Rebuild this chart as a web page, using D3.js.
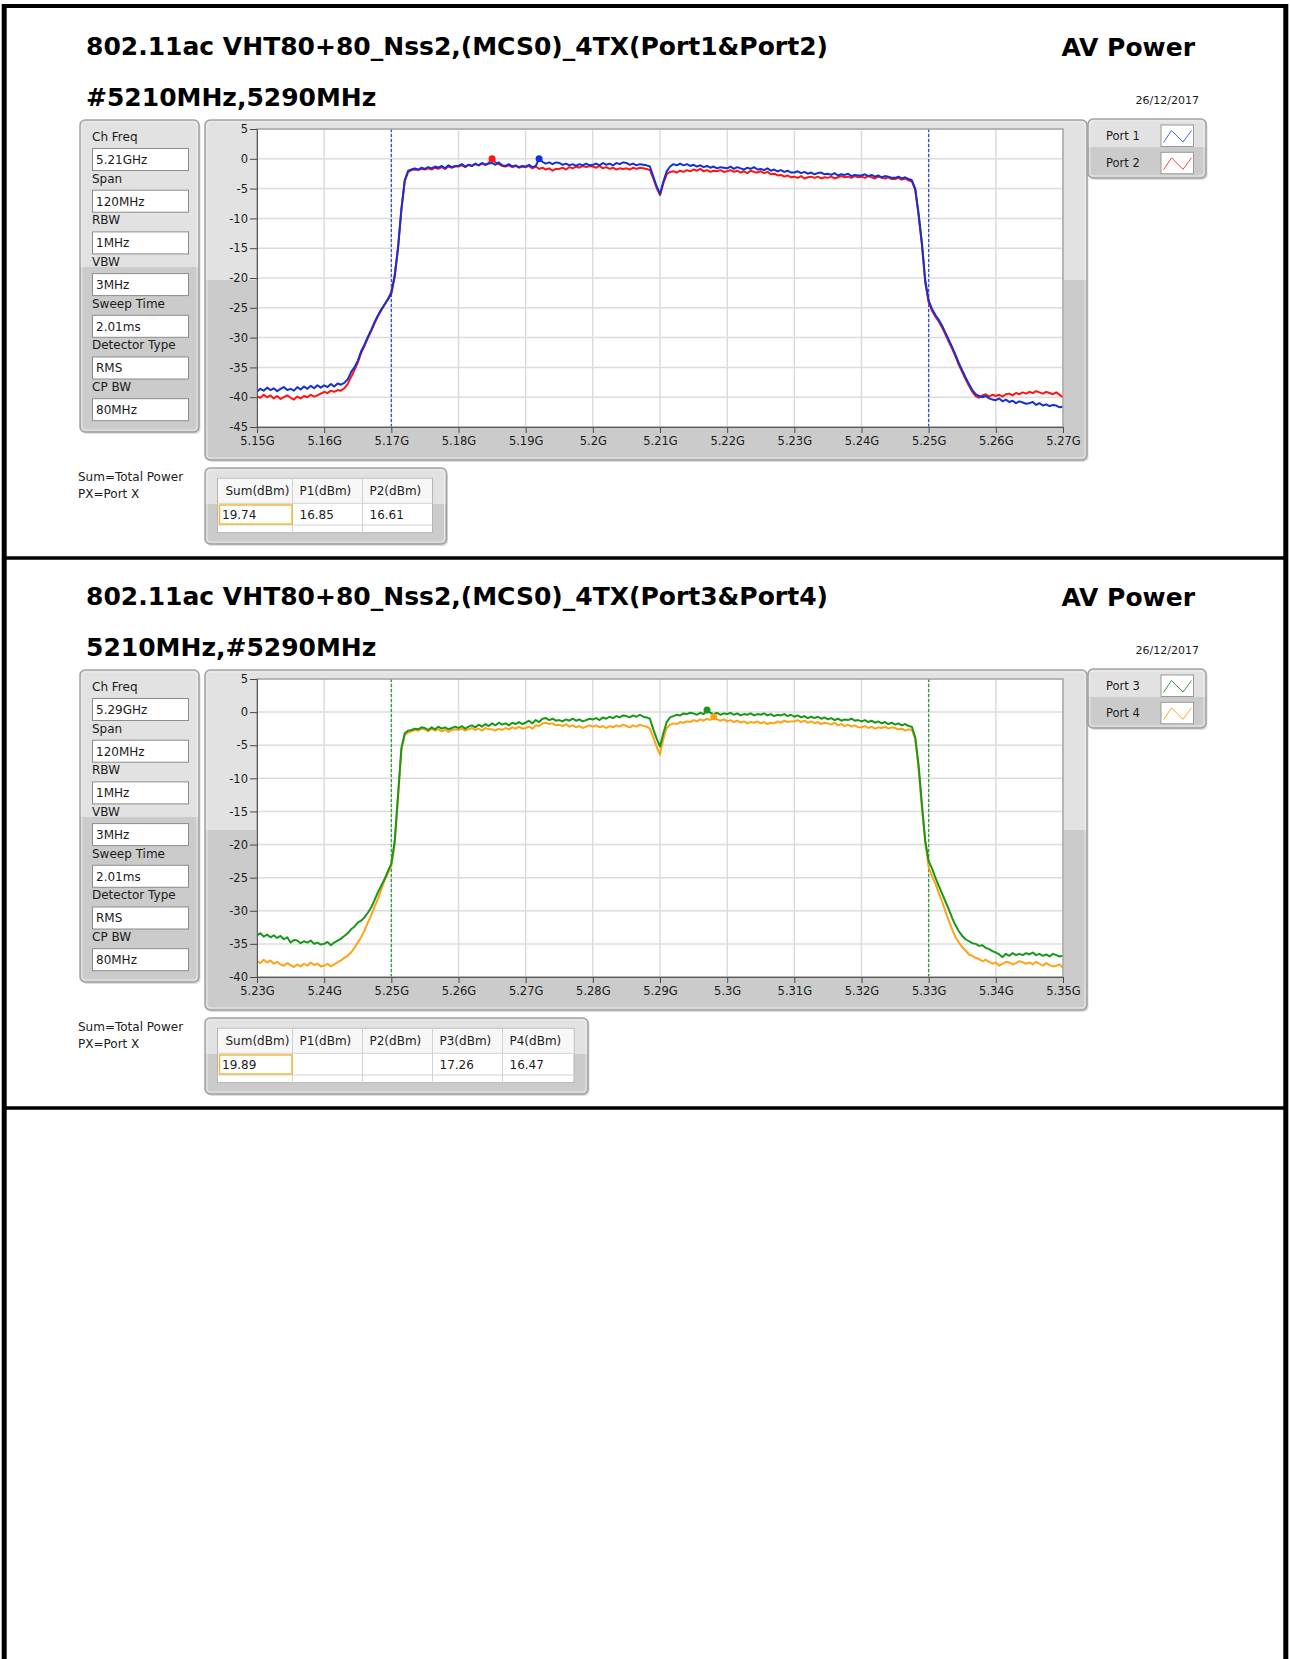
<!DOCTYPE html>
<html>
<head>
<meta charset="utf-8">
<style>
  body { margin: 0; background: #fff; }
  svg { display: block; }
  text { font-family: "DejaVu Sans", sans-serif; fill: #1b1b1b; }
  .title { font-weight: bold; font-size: 25px; fill: #000; }
  .lbl { font-size: 12px; }
  .tick text { font-family: "DejaVu Sans", sans-serif; font-size: 11.5px; fill: #1b1b1b; }
</style>
<script src="https://cdnjs.cloudflare.com/ajax/libs/d3/7.8.5/d3.min.js"></script>
</head>
<body>
<svg></svg>
<script>

// sweep: one point every 0.5 MHz
var sweepStepMHz = 0.5;

// ---- section 1 : 5150 .. 5270 MHz (Port1 & Port2)
var sweep1StartMHz = 5150;
var port1 = [
  -39.1, -38.6, -38.9, -38.4, -38.8, -38.5, -39.0, -38.6, -38.3, -38.8,
  -38.6, -38.9, -38.3, -38.7, -38.2, -38.6, -38.1, -38.5, -38.0, -38.4,
  -38.0, -38.3, -37.8, -38.2, -37.7, -37.9, -37.6, -37.0, -35.8, -35.0,
  -33.9, -32.3, -31.2, -29.9, -28.7, -27.4, -26.3, -25.3, -24.4, -23.6,
  -22.6, -19.8, -15.0, -8.5, -3.6, -2.0, -1.8, -1.6, -1.8, -1.5,
  -1.7, -1.4, -1.6, -1.3, -1.5, -1.2, -1.6, -1.1, -1.4, -1.2,
  -1.2, -0.9, -1.3, -1.0, -1.2, -0.8, -1.1, -0.7, -1.0, -0.8,
  -0.7, -1.0, -0.6, -1.1, -1.2, -0.9, -1.3, -1.1, -1.4, -1.2,
  -1.3, -1.0, -1.4, -1.2, 0.0, -0.5, -0.8, -0.6, -0.9, -0.6,
  -0.7, -1.0, -0.8, -1.1, -0.9, -1.2, -0.9, -1.1, -0.8, -1.1,
  -1.0, -0.8, -1.1, -0.7, -1.0, -0.8, -1.1, -0.7, -0.9, -0.6,
  -0.7, -1.0, -0.8, -1.1, -0.9, -1.0, -1.1, -1.3, -3.0, -4.6,
  -5.9, -3.8, -2.1, -1.3, -0.9, -1.1, -0.8, -1.1, -0.9, -1.2,
  -1.0, -1.3, -1.1, -1.4, -1.2, -1.5, -1.3, -1.6, -1.4, -1.5,
  -1.6, -1.3, -1.7, -1.4, -1.6, -1.8, -1.5, -1.7, -1.4, -1.8,
  -1.7, -1.9, -1.6, -2.0, -1.8, -2.1, -1.9, -2.2, -2.0, -2.3,
  -2.3, -2.1, -2.4, -2.2, -2.5, -2.3, -2.6, -2.4, -2.3, -2.6,
  -2.5, -2.7, -2.4, -2.8, -2.6, -2.7, -2.5, -2.9, -2.7, -2.8,
  -2.8, -2.6, -2.9, -2.7, -3.0, -2.8, -3.1, -2.9, -3.0, -3.2,
  -3.2, -3.0, -3.3, -3.1, -3.4, -3.6, -5.0, -9.2, -14.2, -20.5,
  -23.8, -25.2, -26.2, -27.0, -28.0, -29.2, -30.4, -31.6, -32.9, -34.3,
  -35.5, -36.7, -37.8, -38.8, -39.5, -39.8, -40.0, -39.8, -40.2, -40.4,
  -40.5, -40.2, -40.7, -40.4, -40.8, -40.6, -41.0, -40.7, -40.9, -41.1,
  -41.0, -40.8, -41.3, -41.0, -41.4, -41.2, -41.5, -41.3, -41.4, -41.7,
  -41.6
];
var port2 = [
  -39.8, -40.1, -39.6, -40.0, -39.7, -40.2, -39.8, -40.3, -40.0, -39.7,
  -40.1, -40.4, -39.9, -40.2, -39.8, -40.0, -39.6, -39.9, -39.7, -39.4,
  -39.1, -39.3, -38.9, -39.1, -38.8, -38.9, -38.5, -37.8, -36.6, -35.5,
  -34.2, -32.6, -31.4, -30.1, -28.9, -27.6, -26.4, -25.4, -24.5, -23.5,
  -22.3, -19.5, -14.8, -8.4, -3.7, -2.2, -1.9, -1.8, -1.9, -1.7,
  -1.8, -1.6, -1.8, -1.5, -1.7, -1.4, -1.7, -1.3, -1.5, -1.3,
  -1.3, -1.1, -1.4, -1.0, -1.2, -0.9, -1.1, -0.8, -1.0, -0.7,
  0.0, -0.6, -0.9, -1.2, -1.3, -1.1, -1.4, -1.2, -1.5, -1.3,
  -1.4, -1.2, -1.6, -1.3, -1.7, -1.5, -1.8, -1.6, -2.0, -1.7,
  -1.7, -1.5, -1.8, -1.4, -1.6, -1.3, -1.5, -1.2, -1.4, -1.2,
  -1.3, -1.5, -1.2, -1.6, -1.4, -1.7, -1.5, -1.8, -1.6, -1.7,
  -1.6, -1.8, -1.5, -1.7, -1.5, -1.6, -1.7, -1.9, -3.3, -4.9,
  -6.1, -4.1, -2.6, -2.2, -2.1, -2.3, -2.0, -2.2, -1.9, -2.1,
  -1.8, -2.0, -1.7, -2.1, -1.9, -2.2, -2.0, -2.1, -1.9, -2.2,
  -2.1, -1.9, -2.2, -2.0, -2.3, -2.1, -2.4, -2.0, -2.2, -2.3,
  -2.1, -2.4, -2.2, -2.6, -2.5, -2.8, -2.7, -3.0, -2.8, -3.1,
  -3.0, -3.2, -2.9, -3.3, -3.1, -3.0, -3.2, -3.0, -3.3, -3.1,
  -3.2, -3.0, -3.3, -3.1, -2.9, -3.1, -3.0, -3.2, -2.9, -3.1,
  -3.0, -3.2, -2.9, -3.1, -3.3, -3.0, -3.2, -3.3, -3.1, -3.4,
  -3.4, -3.2, -3.5, -3.3, -3.6, -3.8, -5.2, -9.5, -14.5, -20.8,
  -24.1, -25.5, -26.5, -27.3, -28.3, -29.5, -30.7, -31.9, -33.2, -34.6,
  -35.8, -37.0, -38.1, -39.1, -39.8, -40.1, -39.7, -39.5, -39.9, -39.6,
  -39.8, -39.6, -39.9, -39.5, -39.4, -39.7, -39.3, -39.5, -39.2, -39.4,
  -39.1, -39.3, -39.0, -39.2, -39.4, -39.1, -39.3, -39.5, -39.2, -39.6,
  -40.0
];

// ---- section 2 : 5230 .. 5350 MHz (Port3 & Port4)
var sweep2StartMHz = 5230;
var port3 = [
  -33.7, -33.4, -33.9, -33.6, -34.0, -33.7, -34.1, -33.8, -34.3, -34.0,
  -34.8, -34.4, -34.5, -34.9, -34.6, -34.8, -34.5, -35.0, -34.8, -35.1,
  -35.0, -34.7, -35.2, -34.8, -34.5, -34.2, -33.8, -33.4, -32.8, -32.4,
  -31.8, -31.5, -31.0, -30.3, -29.5, -28.4, -27.2, -26.2, -25.2, -24.0,
  -22.9, -19.5, -12.5, -5.4, -3.2, -2.8, -2.7, -2.5, -2.6, -2.3,
  -2.4, -2.7, -2.3, -2.6, -2.2, -2.5, -2.3, -2.6, -2.4, -2.2,
  -2.4, -2.1, -2.5, -2.2, -2.0, -2.3, -1.9, -2.2, -1.8, -2.1,
  -1.7, -2.0, -1.6, -1.9, -1.7, -2.0, -1.6, -1.8, -1.5, -1.8,
  -1.6, -1.3, -1.7, -1.2, -1.5, -1.0, -0.9, -1.2, -1.0, -1.3,
  -1.2, -1.4, -1.1, -1.3, -1.0, -1.3, -1.1, -1.4, -1.2, -1.0,
  -1.1, -0.9, -1.2, -0.8, -1.0, -0.7, -0.9, -0.6, -0.8, -0.5,
  -0.6, -0.8, -0.5, -0.7, -0.4, -0.7, -0.8, -1.0, -2.6, -4.0,
  -5.2, -3.2, -1.5, -0.8, -0.6, -0.4, -0.5, -0.2, -0.3, -0.1,
  -0.2, -0.4, -0.1, -0.3, 0.3, -0.1, -0.3, -0.1, -0.4, -0.2,
  -0.3, -0.1, -0.4, -0.2, -0.5, -0.3, -0.4, -0.2, -0.5, -0.3,
  -0.4, -0.2, -0.5, -0.3, -0.6, -0.4, -0.5, -0.3, -0.6, -0.4,
  -0.7, -0.5, -0.8, -0.6, -0.9, -0.7, -0.9, -0.7, -1.0, -0.8,
  -1.1, -0.9, -1.2, -1.0, -1.3, -1.1, -1.2, -1.0, -1.3, -1.2,
  -1.4, -1.2, -1.5, -1.3, -1.6, -1.4, -1.7, -1.5, -1.8, -1.6,
  -1.9, -1.7, -2.0, -1.8, -2.1, -2.2, -3.8, -8.0, -14.0, -19.5,
  -22.5, -23.6, -25.0, -26.2, -27.4, -28.6, -29.8, -31.1, -32.2, -33.1,
  -33.8, -34.3, -34.6, -34.9, -35.0, -35.3, -35.2, -35.6, -35.8, -36.1,
  -36.3, -36.6, -37.0, -36.5, -36.8, -36.4, -36.7, -36.5, -36.7, -36.4,
  -36.6, -36.3, -36.7, -36.5, -36.8, -36.6, -36.9, -36.5, -36.7, -36.9,
  -36.8
];
var port4 = [
  -37.6, -37.9, -37.4, -37.8, -37.5, -38.0, -37.7, -38.1, -38.3, -37.9,
  -38.2, -38.5, -38.1, -38.4, -38.0, -38.3, -37.8, -38.2, -38.0, -38.4,
  -38.3, -38.0, -38.4, -38.1, -37.8, -37.5, -37.1, -36.8, -36.3, -35.6,
  -34.8, -34.0, -33.0, -31.8, -30.7, -29.4, -28.2, -26.8, -25.4, -24.3,
  -23.2, -19.8, -12.8, -5.7, -3.4, -3.1, -2.9, -2.7, -2.8, -2.5,
  -2.6, -2.9, -2.5, -2.8, -2.6, -2.9, -2.7, -3.0, -2.7, -2.6,
  -2.7, -2.5, -2.8, -2.6, -2.4, -2.7, -2.5, -2.8, -2.4, -2.6,
  -2.6, -2.8, -2.5, -2.7, -2.4, -2.6, -2.3, -2.5, -2.2, -2.5,
  -2.4, -2.2, -2.5, -2.0, -2.1, -1.7, -1.6, -1.8, -1.7, -2.0,
  -1.9, -2.1, -1.8, -2.2, -2.0, -2.3, -2.1, -2.4, -2.2, -2.0,
  -2.2, -2.0, -2.3, -2.1, -2.4, -2.1, -2.3, -2.0, -2.2, -1.9,
  -2.1, -2.3, -2.0, -2.2, -1.9, -2.1, -2.2, -2.5, -3.8, -5.2,
  -6.4, -4.0, -2.4, -1.9, -1.7, -1.8, -1.5, -1.6, -1.4, -1.5,
  -1.2, -1.4, -1.1, -1.3, -1.0, -1.2, -0.7, -1.1, -1.3, -1.1,
  -1.4, -1.2, -1.5, -1.3, -1.6, -1.4, -1.7, -1.5, -1.6, -1.4,
  -1.7, -1.5, -1.8, -1.6, -1.7, -1.4, -1.6, -1.3, -1.5, -1.4,
  -1.4, -1.2, -1.5, -1.3, -1.6, -1.4, -1.7, -1.5, -1.8, -1.6,
  -1.7, -1.9, -1.6, -2.0, -1.8, -2.1, -1.9, -2.2, -2.0, -2.3,
  -2.3, -2.1, -2.4, -2.2, -2.5, -2.3, -2.4, -2.2, -2.5, -2.3,
  -2.4, -2.6, -2.5, -2.8, -2.6, -2.7, -4.0, -8.6, -14.5, -19.8,
  -23.4, -24.8, -25.9, -27.3, -28.6, -30.1, -31.5, -32.8, -34.0, -34.8,
  -35.5, -36.0, -36.6, -36.8, -37.1, -37.3, -37.6, -37.4, -37.7, -38.0,
  -37.8, -38.3, -38.0, -37.7, -37.8, -38.1, -37.9, -37.6, -37.8, -38.0,
  -37.8, -38.1, -37.7, -38.0, -38.3, -37.9, -38.2, -38.4, -38.3, -38.1,
  -38.6
];

// peak markers (MHz)
var peak1 = 5192, peak2 = 5185, peak3 = 5297, peak4 = 5298;

var xTicks1 = [5150, 5160, 5170, 5180, 5190, 5200, 5210, 5220, 5230, 5240, 5250, 5260, 5270];
var xTicks2 = [5230, 5240, 5250, 5260, 5270, 5280, 5290, 5300, 5310, 5320, 5330, 5340, 5350];
var yTicks1 = [5, 0, -5, -10, -15, -20, -25, -30, -35, -40, -45];
var yTicks2 = [5, 0, -5, -10, -15, -20, -25, -30, -35, -40];

// channel edges (dashed markers)
var edges1 = [5170, 5250];
var edges2 = [5250, 5330];

var paramLabels = ["Ch Freq", "Span", "RBW", "VBW", "Sweep Time", "Detector Type", "CP BW"];
var params1 = ["5.21GHz", "120MHz", "1MHz", "3MHz", "2.01ms", "RMS", "80MHz"];
var params2 = ["5.29GHz", "120MHz", "1MHz", "3MHz", "2.01ms", "RMS", "80MHz"];

var tableHead1 = ["Sum(dBm)", "P1(dBm)", "P2(dBm)"];
var tableRow1 = ["19.74", "16.85", "16.61"];
var tableHead2 = ["Sum(dBm)", "P1(dBm)", "P2(dBm)", "P3(dBm)", "P4(dBm)"];
var tableRow2 = ["19.89", "", "", "17.26", "16.47"];

var titles1 = ["802.11ac VHT80+80_Nss2,(MCS0)_4TX(Port1&Port2)", "#5210MHz,5290MHz"];
var titles2 = ["802.11ac VHT80+80_Nss2,(MCS0)_4TX(Port3&Port4)", "5210MHz,#5290MHz"];
var reportDate = "26/12/2017";

var width = 1290,
    height = 1659,
    svg = d3.select("svg").attr("width", width).attr("height", height);

var defs = svg.append("defs");
var silver = defs.append("linearGradient").attr("id", "silver")
    .attr("x1", 0).attr("y1", 0).attr("x2", 0).attr("y2", 1);
[[0, "#e2e2e2"], [0.47, "#e2e2e2"], [0.47, "#cbcbcb"], [1, "#cbcbcb"]]
  .forEach(s => silver.append("stop").attr("offset", s[0]).attr("stop-color", s[1]));

function panel(g, x, y, w, h) {
  g.append("rect").attr("x", x + 1.5).attr("y", y + 2).attr("width", w).attr("height", h)
    .attr("rx", 5).attr("fill", "#9a9a9a").attr("opacity", 0.35);
  g.append("rect").attr("x", x).attr("y", y).attr("width", w).attr("height", h)
    .attr("rx", 5).attr("fill", "url(#silver)").attr("stroke", "#a2a2a2").attr("stroke-width", 1.5);
  g.append("rect").attr("x", x + 2).attr("y", y + 2).attr("width", w - 4).attr("height", h - 4)
    .attr("rx", 3).attr("fill", "none").attr("stroke", "#f0f0f0").attr("opacity", 0.8);
}

function drawSection(k, cfg) {
  var g = svg.append("g").attr("transform", "translate(0," + k * 550 + ")");

  g.append("text").attr("class", "title").attr("x", 86).attr("y", 55).text(cfg.titles[0]);
  g.append("text").attr("class", "title").attr("x", 86).attr("y", 106).text(cfg.titles[1]);
  g.append("text").attr("class", "title").attr("x", 1195).attr("y", 56)
    .attr("text-anchor", "end").text("AV Power");
  g.append("text").attr("x", 1199).attr("y", 104).attr("text-anchor", "end")
    .style("font-size", "11px").text(reportDate);

  // settings panel
  panel(g, 80, 120, 119, 312);
  cfg.params.forEach((v, i) => {
    var by = 148.5 + i * 41.7;
    g.append("text").attr("class", "lbl").attr("x", 92).attr("y", by - 12).attr("dy", "0.36em")
      .text(paramLabels[i]);
    g.append("rect").attr("x", 92.5).attr("y", by).attr("width", 96).attr("height", 22)
      .attr("fill", "#fff").attr("stroke", "#8c8c8c");
    g.append("text").attr("class", "lbl").attr("x", 96).attr("y", by + 11).attr("dy", "0.36em").text(v);
  });

  // graph panel
  panel(g, 205, 120, 882, 340);
  var left = 257, right = 1063, top = 129, bottom = 427;
  var x = d3.scaleLinear().domain(cfg.xDomain).range([left, right]);
  var y = d3.scaleLinear().domain(cfg.yDomain).range([bottom, top]);

  g.append("rect").attr("x", left).attr("y", top).attr("width", right - left).attr("height", bottom - top)
    .attr("fill", "#fff");

  g.append("g").selectAll("line").data(cfg.yTicks).join("line")
    .attr("x1", left).attr("x2", right)
    .attr("y1", d => y(d)).attr("y2", d => y(d))
    .attr("stroke", "#dcdcdc").attr("stroke-width", 1.5);
  g.append("g").selectAll("line").data(cfg.xTicks).join("line")
    .attr("x1", d => x(d)).attr("x2", d => x(d))
    .attr("y1", top).attr("y2", bottom)
    .attr("stroke", "#dcdcdc").attr("stroke-width", 1.5);

  g.append("g").selectAll("line").data(cfg.edges).join("line")
    .attr("x1", d => x(d)).attr("x2", d => x(d))
    .attr("y1", top).attr("y2", bottom)
    .attr("stroke", cfg.edgeColor).attr("stroke-width", 1.2).attr("stroke-dasharray", "3,2");

  var clipId = "clip" + k;
  defs.append("clipPath").attr("id", clipId).append("rect")
    .attr("x", left).attr("y", top).attr("width", right - left).attr("height", bottom - top);

  var line = d3.line().x(d => x(d[0])).y(d => y(d[1]));
  var plot = g.append("g").attr("clip-path", "url(#" + clipId + ")");
  cfg.traces.forEach(t => {
    var pts = t.values.map((v, i) => [t.start + i * sweepStepMHz, v]);
    plot.append("path").datum(pts).attr("d", line)
      .attr("fill", "none").attr("stroke", t.color).attr("stroke-width", 2)
      .attr("stroke-linejoin", "round");
  });
  cfg.traces.forEach(t => {
    var i = Math.round((t.peak - t.start) / sweepStepMHz);
    plot.append("circle").attr("cx", x(t.peak)).attr("cy", y(t.values[i]))
      .attr("r", 3.5).attr("fill", t.color);
  });

  // frame
  g.append("rect").attr("x", left).attr("y", top).attr("width", right - left).attr("height", bottom - top)
    .attr("fill", "none").attr("stroke", "#a6a6a6").attr("stroke-width", 1.5);

  var yAxis = g.append("g").attr("transform", "translate(" + left + ",0)")
    .call(d3.axisLeft(y).tickValues(cfg.yTicks).tickSize(7).tickPadding(2).tickFormat(d => String(d)));
  var xAxis = g.append("g").attr("transform", "translate(0," + bottom + ")")
    .call(d3.axisBottom(x).tickValues(cfg.xTicks).tickSize(6).tickPadding(4).tickFormat(d => (d / 1000) + "G"));
  [yAxis, xAxis].forEach(a => {
    a.select(".domain").attr("stroke", "#5a5a5a");
    a.selectAll(".tick line").attr("stroke", "#4a4a4a");
    a.selectAll(".tick text").attr("fill", "#1b1b1b");
  });

  // legend
  panel(g, 1088, 119, 118, 59);
  cfg.traces.slice().reverse().forEach((t, i) => {
    var ry = 125 + i * 27.3;
    g.append("text").attr("x", 1106).attr("y", ry + 11).attr("dy", "0.36em")
      .style("font-size", "11.5px").text(t.name);
    g.append("rect").attr("x", 1161).attr("y", ry).attr("width", 32.5).attr("height", 21.5)
      .attr("fill", "#fff").attr("stroke", "#9a9a9a");
    g.append("path")
      .attr("d", "M" + (1161 + 2.5) + "," + (ry + 17.5) + "L" + (1161 + 10.5) + "," + (ry + 5.5) +
                 "L" + (1161 + 22) + "," + (ry + 17) + "L" + (1161 + 30.5) + "," + (ry + 5.5))
      .attr("fill", "none").attr("stroke", t.legendColor).attr("stroke-width", 1);
  });

  // result table
  g.append("text").attr("class", "lbl").attr("x", 78).attr("y", 476.7).attr("dy", "0.36em").text("Sum=Total Power");
  g.append("text").attr("class", "lbl").attr("x", 78).attr("y", 493.3).attr("dy", "0.36em").text("PX=Port X");

  var colW = [75, 70, 70, 70, 71.5].slice(0, cfg.head.length);
  var colX = [217.5];
  colW.forEach((w, i) => colX.push(colX[i] + w));
  var tEnd = colX[colX.length - 1];
  panel(g, 205, 468, tEnd + 14 - 205, 76);

  g.append("rect").attr("x", 217.5).attr("y", 478.3).attr("width", tEnd - 217.5).attr("height", 54.4)
    .attr("fill", "#fff").attr("stroke", "#b5b5b5");
  g.append("rect").attr("x", 218).attr("y", 478.8).attr("width", tEnd - 218.5).attr("height", 24.5)
    .attr("fill", "#f7f7f7");
  [503.3, 525].forEach(ry => g.append("line").attr("x1", 217.5).attr("x2", tEnd)
    .attr("y1", ry).attr("y2", ry).attr("stroke", "#d2d2d2"));
  colX.slice(1, -1).forEach(cx => g.append("line").attr("x1", cx).attr("x2", cx)
    .attr("y1", 478.3).attr("y2", 532.7).attr("stroke", "#d2d2d2"));

  cfg.head.forEach((h, i) => {
    g.append("text").attr("class", "lbl").attr("x", colX[i] + (i ? 7 : 8)).attr("y", 490.8)
      .attr("dy", "0.36em").text(h);
    g.append("text").attr("class", "lbl").attr("x", colX[i] + (i ? 7 : 4.5)).attr("y", 514.5)
      .attr("dy", "0.36em").text(cfg.row[i]);
  });
  g.append("rect").attr("x", 219.5).attr("y", 505).attr("width", 72.5).attr("height", 19)
    .attr("fill", "none").attr("stroke", "#f0b93a").attr("stroke-width", 1.5);
}

drawSection(0, {
  titles: titles1, params: params1,
  xDomain: [5150, 5270], yDomain: [-45, 5], xTicks: xTicks1, yTicks: yTicks1,
  edges: edges1, edgeColor: "#2446e0",
  traces: [
    { name: "Port 2", values: port2, start: sweep1StartMHz, peak: peak2, color: "#ff1414", legendColor: "#ff3a3a" },
    { name: "Port 1", values: port1, start: sweep1StartMHz, peak: peak1, color: "#1430d4", legendColor: "#4a68e0" }
  ],
  head: tableHead1, row: tableRow1
});

drawSection(1, {
  titles: titles2, params: params2,
  xDomain: [5230, 5350], yDomain: [-40, 5], xTicks: xTicks2, yTicks: yTicks2,
  edges: edges2, edgeColor: "#22a022",
  traces: [
    { name: "Port 4", values: port4, start: sweep2StartMHz, peak: peak4, color: "#ffa216", legendColor: "#ffa524" },
    { name: "Port 3", values: port3, start: sweep2StartMHz, peak: peak3, color: "#18981a", legendColor: "#28a428" }
  ],
  head: tableHead2, row: tableRow2
});

// page frame
var frame = svg.append("g").attr("stroke", "#000");
frame.append("line").attr("x1", 4.2).attr("x2", 4.2).attr("y1", 4).attr("y2", height).attr("stroke-width", 5);
frame.append("line").attr("x1", 1285.8).attr("x2", 1285.8).attr("y1", 4).attr("y2", height).attr("stroke-width", 5);
frame.append("line").attr("x1", 2).attr("x2", 1288).attr("y1", 6).attr("y2", 6).attr("stroke-width", 4);
[558, 1108].forEach(yy => frame.append("line").attr("x1", 2).attr("x2", 1288)
  .attr("y1", yy).attr("y2", yy).attr("stroke-width", 3.5));

</script>
</body>
</html>
